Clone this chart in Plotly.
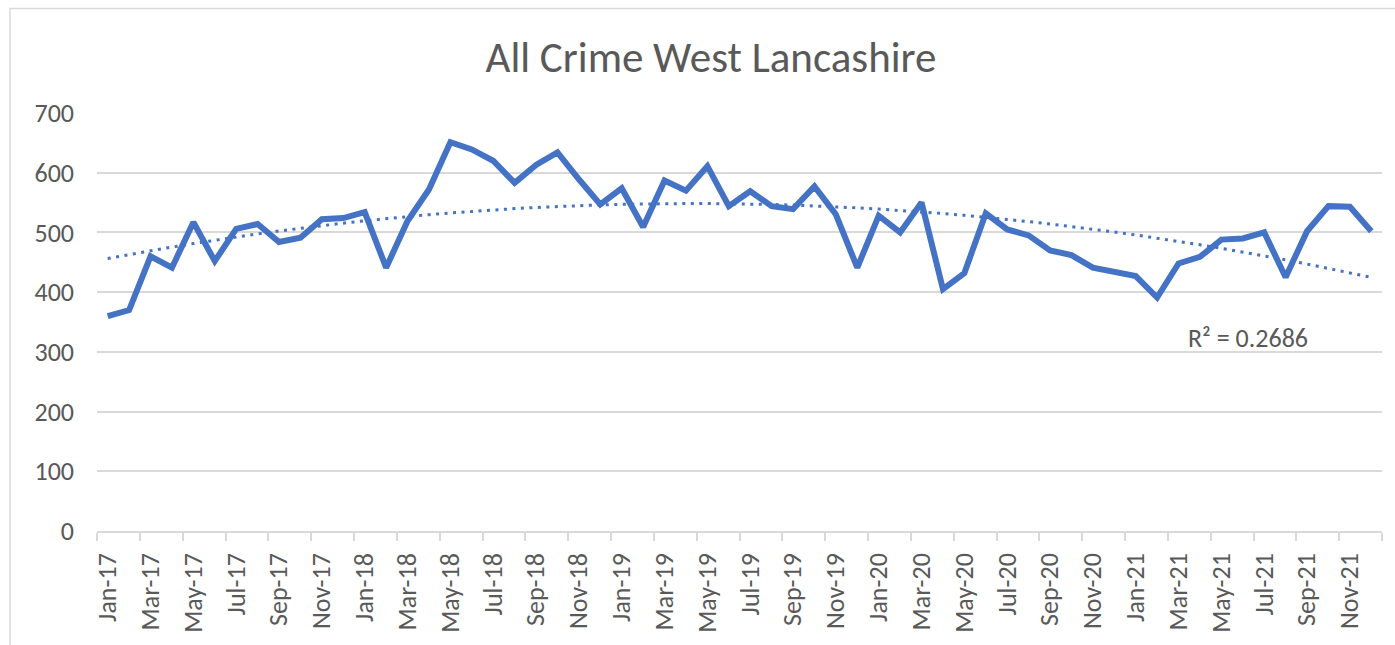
import numpy as np
import plotly.graph_objects as go

# ---- data ----
years = ["17", "18", "19", "20", "21"]
month_names = ["Jan", "Feb", "Mar", "Apr", "May", "Jun",
               "Jul", "Aug", "Sep", "Oct", "Nov", "Dec"]
months = [f"{m}-{y}" for y in years for m in month_names]

crimes_2017 = [360, 370, 460, 441, 517, 452, 506, 514, 484, 491, 522, 524]
crimes_2018 = [534, 441, 519, 572, 651, 639, 620, 583, 613, 634, 589, 547]
crimes_2019 = [574, 509, 587, 570, 611, 544, 569, 544, 539, 577, 530, 441]
crimes_2020 = [528, 500, 550, 405, 432, 532, 505, 495, 470, 462, 441, 435]
crimes_2021 = [427, 391, 448, 459, 488, 490, 500, 425, 502, 544, 543, 502]
crimes = crimes_2017 + crimes_2018 + crimes_2019 + crimes_2020 + crimes_2021

y_ticks = [0, 100, 200, 300, 400, 500, 600, 700]
title_text = "All Crime West Lancashire"
r2_text = "R² = 0.2686"

# ---- derived ----
x_idx = np.arange(len(months))
coef = np.polyfit(x_idx + 1, crimes, 2)
trend = np.polyval(coef, x_idx + 1)

FONT = "Calibri, Carlito, Lato, sans-serif"
GREY = "#595959"
BLUE = "#4472C4"
GRID = "#D9D9D9"

W, H = 1395, 645
L, R, T, B = 97, 13, 113, 112
pw = W - L - R
ph = H - T - B

fig = go.Figure()
fig.add_trace(go.Scatter(
    x=x_idx, y=crimes, mode="lines",
    line=dict(color=BLUE, width=6),
    showlegend=False, hoverinfo="x+y"))
fig.add_trace(go.Scatter(
    x=x_idx, y=trend, mode="lines",
    line=dict(color=BLUE, width=3, dash="3px,5.5px"),
    showlegend=False, hoverinfo="skip"))

fig.update_layout(
    width=W, height=H,
    margin=dict(l=L, r=R, t=T, b=B),
    paper_bgcolor="white", plot_bgcolor="white",
    font=dict(family=FONT, color=GREY),
    title=dict(text=title_text, x=711 / W, xanchor="center",
               y=1 - 57 / H, yanchor="middle", yref="container",
               font=dict(family=FONT, size=43, color=GREY)),
    xaxis=dict(
        range=[-0.5, len(months) - 0.5],
        tickmode="array",
        tickvals=list(x_idx[::2]),
        ticktext=months[::2],
        tickangle=-90,
        ticks="",
        ticklabelstandoff=10,
        showline=True, linecolor=GRID, linewidth=1.5,
        showgrid=False, zeroline=False,
        tickfont=dict(family=FONT, size=26, color=GREY),
        minor=dict(tickmode="linear", tick0=-0.5, dtick=2,
                   ticks="outside", ticklen=8, tickcolor=GRID,
                   tickwidth=1.5, showgrid=False),
    ),
    yaxis=dict(
        range=[0, 700],
        tickmode="array", tickvals=y_ticks,
        showgrid=True, gridcolor=GRID, gridwidth=1.5,
        zeroline=False, showline=False, ticks="",
        ticklabelstandoff=22,
        tickfont=dict(family=FONT, size=26, color=GREY),
    ),
    annotations=[dict(
        text=r2_text, xref="paper", yref="paper",
        x=(1248 - L) / pw, y=(H - B - 339) / ph,
        xanchor="center", yanchor="middle", showarrow=False,
        font=dict(family=FONT, size=26, color=GREY))],
    shapes=[dict(
        type="rect", xref="paper", yref="paper",
        x0=(10 - L) / pw, x1=(1500 - L) / pw,
        y0=(H - B - 700) / ph, y1=(H - B - 8) / ph,
        line=dict(color=GRID, width=1.5), fillcolor="rgba(0,0,0,0)",
        layer="below")],
)

fig.write_html("out.html",
               config={"displayModeBar": False},
               post_script="document.body.style.margin='0';document.body.style.overflow='hidden';")
